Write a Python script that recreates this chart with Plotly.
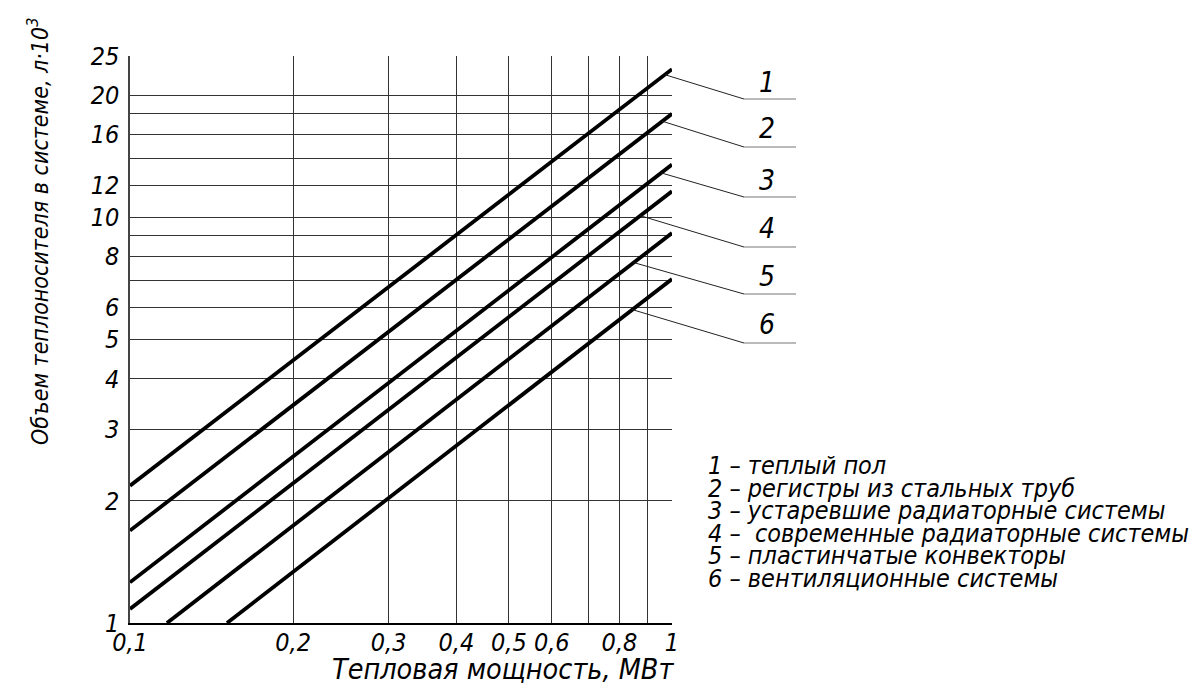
import math
import plotly.graph_objects as go

# ---- data ----
series_names = ["1", "2", "3", "4", "5", "6"]
series_x = [
    [0.1, 1.0],
    [0.1, 1.0],
    [0.1, 1.0],
    [0.1, 1.0],
    [0.117, 1.0],
    [0.151, 1.0],
]
series_y = [
    [2.18, 23.2],
    [1.69, 18.0],
    [1.26, 13.5],
    [1.083, 11.6],
    [1.0, 9.15],
    [1.0, 7.05],
]
legend_lines = [
    "1 – теплый пол",
    "2 – регистры из стальных труб",
    "3 – устаревшие радиаторные системы",
    "4 –  современные радиаторные системы",
    "5 – пластинчатые конвекторы",
    "6 – вентиляционные системы",
]
# x positions (on each line) where the leader lines start
leader_x = [0.97, 0.96, 0.955, 0.874, 0.85, 0.845]

x_tickvals = [0.1, 0.2, 0.3, 0.4, 0.5, 0.6, 0.8, 1.0]
x_ticktext = ["0,1", "0,2", "0,3", "0,4", "0,5", "0,6", "0,8", "1"]
x_minorvals = [0.7, 0.9]
y_tickvals = [1, 2, 3, 4, 5, 6, 8, 10, 12, 16, 20, 25]
y_ticktext = ["1", "2", "3", "4", "5", "6", "8", "10", "12", "16", "20", "25"]
y_minorvals = [7, 9, 14, 18]

x_title = "Тепловая мощность, МВт"
y_title = "Объем теплоносителя в системе, л·10<sup>3</sup>"

# ---- layout geometry (page has an 8px body margin) ----
OFF = 8
W, H = 1193, 680
L, T = 130 - OFF, 56 - OFF
R = W - (672 - OFF)
B = H - (623 - OFF)
PW, PH = W - L - R, H - T - B
XR = [-1.0, 0.0]
YR = [0.0, math.log10(25)]

FONT = "DejaVu Sans Condensed, DejaVu Sans, sans-serif"


def px_to_paper_x(px):
    return (px - OFF - L) / PW


def py_to_paper_y(py):
    return (H - B - (py - OFF)) / PH


def data_to_paper(x, y):
    return ((math.log10(x) - XR[0]) / (XR[1] - XR[0]),
            (math.log10(y) - YR[0]) / (YR[1] - YR[0]))


fig = go.Figure()
for name, xs, ys in zip(series_names, series_x, series_y):
    fig.add_trace(go.Scatter(x=xs, y=ys, mode="lines", name=name,
                             line=dict(color="black", width=3.8),
                             showlegend=False, hoverinfo="skip"))

shapes = []
annotations = []
label_centers_y = [82, 128, 180, 228, 276, 324]
underline_y = [99, 147, 197, 247, 294, 343]
for i, name in enumerate(series_names):
    xs, ys = series_x[i], series_y[i]
    lx = leader_x[i]
    t = (math.log10(lx) - math.log10(xs[0])) / (math.log10(xs[1]) - math.log10(xs[0]))
    ly = 10 ** (math.log10(ys[0]) + t * (math.log10(ys[1]) - math.log10(ys[0])))
    hx, hy = data_to_paper(lx, ly)
    ux0 = px_to_paper_x(744)
    ux1 = px_to_paper_x(796)
    uy = py_to_paper_y(underline_y[i])
    shapes.append(dict(type="line", xref="paper", yref="paper",
                       x0=hx, y0=hy, x1=ux0, y1=uy,
                       line=dict(color="#222", width=1)))
    shapes.append(dict(type="line", xref="paper", yref="paper",
                       x0=ux0, y0=uy, x1=ux1, y1=uy,
                       line=dict(color="#777", width=1.2)))
    annotations.append(dict(xref="paper", yref="paper",
                            x=px_to_paper_x(767), y=py_to_paper_y(label_centers_y[i]),
                            text=name, showarrow=False, xanchor="center", yanchor="middle",
                            font=dict(family=FONT, size=28, color="black", style="italic")))

legend_centers = [465, 488, 510, 533, 555, 578]
for txt, cy in zip(legend_lines, legend_centers):
    annotations.append(dict(xref="paper", yref="paper",
                            x=px_to_paper_x(706), y=py_to_paper_y(cy),
                            text=txt, showarrow=False, xanchor="left", yanchor="middle",
                            font=dict(family=FONT, size=25, color="black", style="italic")))

annotations.append(dict(xref="paper", yref="paper",
                        x=px_to_paper_x(503), y=py_to_paper_y(669),
                        text=x_title, showarrow=False, xanchor="center", yanchor="middle",
                        font=dict(family=FONT, size=28.5, color="black", style="italic")))
annotations.append(dict(xref="paper", yref="paper",
                        x=px_to_paper_x(38), y=py_to_paper_y(232),
                        text=y_title, showarrow=False, textangle=-90,
                        xanchor="center", yanchor="middle",
                        font=dict(family=FONT, size=23, color="black", style="italic")))

grid = dict(showgrid=True, gridcolor="#333", gridwidth=1.3)
fig.update_layout(
    width=W, height=H,
    margin=dict(l=L, r=R, t=T, b=B, pad=0),
    paper_bgcolor="white", plot_bgcolor="white",
    shapes=shapes, annotations=annotations,
    xaxis=dict(type="log", range=XR, tickvals=x_tickvals, ticktext=x_ticktext,
               minor=dict(tickvals=x_minorvals, ticks="", **grid),
               showline=True, linecolor="black", linewidth=1.5, mirror=False,
               ticks="", zeroline=False, ticklabelstandoff=-4,
               tickfont=dict(family=FONT, size=25, color="black", style="italic"),
               **grid),
    yaxis=dict(type="log", range=YR, tickvals=y_tickvals, ticktext=y_ticktext,
               minor=dict(tickvals=y_minorvals, ticks="", **grid),
               showline=True, linecolor="#444", linewidth=1.5, mirror=False,
               ticks="", zeroline=False, ticklabelstandoff=4,
               tickfont=dict(family=FONT, size=25, color="black", style="italic"),
               **grid),
)

fig.write_html("out.html")
